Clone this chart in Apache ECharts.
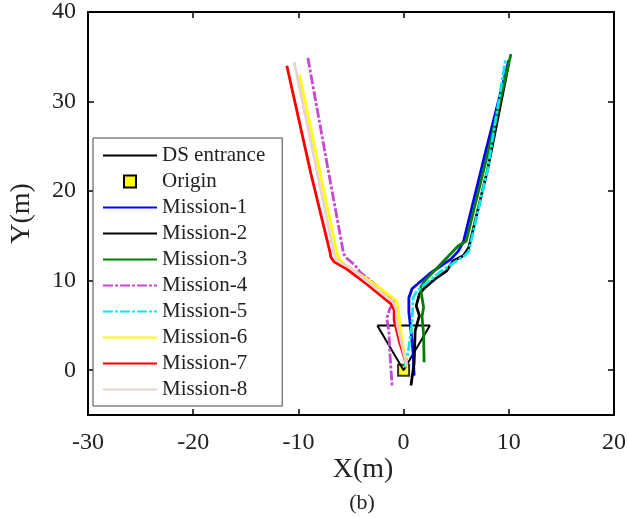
<!DOCTYPE html>
<html><head><meta charset="utf-8">
<script src="https://cdn.jsdelivr.net/npm/echarts@6/dist/echarts.min.js"></script>
<style>html,body{margin:0;padding:0;background:#fff}#c{width:629px;height:518px}</style>
</head><body><div id="c"></div>
<script>
const xTicks = [-30, -20, -10, 0, 10, 20];
const yTicks = [0, 10, 20, 30, 40];
const seriesNames = ['DS entrance','Origin','Mission-1','Mission-2','Mission-3','Mission-4','Mission-5','Mission-6','Mission-7','Mission-8'];

const dsEntrance = [[-2.5,5],[2.5,5],[0,0],[-2.5,5]];
const origin = [[0,0]];
const mission1 = [[1.0,-0.6],[0.9,2.0],[0.7,4.4],[0.5,6.5],[0.5,8.1],[0.8,9.1],[2.5,10.8],[4.5,12.4],[5.2,13.3],[5.7,14.4],[7.8,24.4],[10.0,34.6]];
const mission2 = [[0.7,-1.7],[1.0,0.8],[1.1,4.4],[1.5,6.1],[1.2,7.2],[1.5,8.5],[2.0,9.2],[3.0,10.2],[4.1,11.1],[4.7,12.2],[5.7,12.8],[6.2,13.7],[8.0,22.5],[10.0,34.3]];
const mission3 = [[1.95,0.9],[1.9,4.0],[1.75,6.0],[1.9,7.0],[1.75,8.1],[1.6,9.2],[2.0,10.0],[3.5,11.8],[5.2,13.9],[5.95,14.4],[8.0,24.2],[10.2,35.3]];
const mission4 = [[-9.1,34.9],[-7.1,21.9],[-5.7,13.0],[-5.5,12.6],[-4.6,11.7],[-4.1,10.9],[-2.5,9.4],[-0.9,7.6],[-1.3,6.9],[-1.6,5.8],[-1.4,4.4],[-1.3,1.9],[-1.1,-1.7]];
const mission5 = [[0.1,0.3],[0.5,2.5],[0.8,5.2],[0.9,8.1],[1.3,8.9],[3.5,11.0],[5.8,12.8],[6.2,13.3],[8.0,22.5],[9.7,34.8]];
const mission6 = [[-9.9,33.0],[-6.3,12.9],[-6.1,12.4],[-5.7,11.9],[-3.0,9.8],[-0.7,7.8],[-0.5,6.7],[-0.3,4.5],[0.1,1.8],[0.3,0.4]];
const mission7 = [[-11.1,34.0],[-8.8,21.9],[-7.0,13.2],[-6.9,12.6],[-6.6,12.1],[-5.4,11.3],[-3.5,9.6],[-1.2,7.4],[-0.9,6.7],[-0.9,5.6],[-0.4,3.2],[0.2,0.9]];
const mission8 = [[-10.4,34.4],[-6.6,13.0],[-6.4,12.4],[-6.0,12.0],[-5.0,11.4],[-1.0,7.6],[-0.7,6.8],[-0.6,5.0],[0.0,2.0],[0.3,0.5]];

const serif = "'Liberation Serif','Times New Roman',serif";
const chart = echarts.init(document.getElementById('c'));

function line(name, data, color, width, type, z) {
  return {name, type:'line', data, symbol:'none', smooth:false, z: z,
    lineStyle:{color, width, type: type || 'solid'}, itemStyle:{color}, emphasis:{disabled:true}};
}
const dashDot = [10,2,3,2];

const legendData = seriesNames.map(n => n === 'Origin'
  ? {name:n, icon:'path://M0 0H10V10H0Z', itemStyle:{opacity:1}}
  : {name:n});

chart.setOption({
  animation:false,
  grid:{left:84, right:9, top:10, bottom:103, containLabel:false},
  xAxis:[
    {type:'value', min:-30, max:20, interval:10, position:'bottom',
     axisLine:{show:true, onZero:false, lineStyle:{color:'#000', width:2}},
     axisTick:{show:true, inside:true, length:6, lineStyle:{color:'#000', width:1.5}},
     axisLabel:{fontFamily:serif, fontSize:24, color:'#222', margin:16},
     splitLine:{show:false}},
    {type:'value', min:-30, max:20, interval:10, position:'top',
     axisLine:{show:true, onZero:false, lineStyle:{color:'#000', width:2}},
     axisTick:{show:true, inside:true, length:6, lineStyle:{color:'#000', width:1.5}},
     axisLabel:{show:false}, splitLine:{show:false}}
  ],
  yAxis:[
    {type:'value', min:-5, max:40, position:'left',
     name:'Y(m)', nameLocation:'middle', nameGap:52,
     nameTextStyle:{fontFamily:serif, fontSize:28, color:'#222'},
     axisLine:{show:true, onZero:false, lineStyle:{color:'#000', width:2}},
     axisTick:{show:true, inside:true, length:6, customValues:yTicks, lineStyle:{color:'#000', width:1.5}},
     axisLabel:{fontFamily:serif, fontSize:24, color:'#222', margin:12, customValues:yTicks},
     splitLine:{show:false}},
    {type:'value', min:-5, max:40, position:'right',
     axisLine:{show:true, onZero:false, lineStyle:{color:'#000', width:2}},
     axisTick:{show:true, inside:true, length:6, customValues:yTicks, lineStyle:{color:'#000', width:1.5}},
     axisLabel:{show:false}, splitLine:{show:false}}
  ],
  legend:{
    data: legendData, orient:'vertical', left:93, top:138,
    itemWidth:54, itemHeight:12, itemGap:5, padding:[7,17,6,9],
    itemStyle:{opacity:0},
    backgroundColor:'#fff', borderColor:'#444', borderWidth:1, borderRadius:0,
    textStyle:{fontFamily:serif, fontSize:21, color:'#222', lineHeight:20},
    selectedMode:false
  },
  graphic:[
    {type:'text', style:{text:'X(m)', font:"28px 'Liberation Serif'", fill:'#222', x:363, y:470, align:'center', verticalAlign:'middle'}},
    {type:'text', style:{text:'(b)', font:"22px 'Liberation Serif'", fill:'#222', x:362, y:503, align:'center', verticalAlign:'middle'}}
  ],
  series:[
    {name:'Origin', type:'scatter', data:origin, symbol:'rect', symbolSize:11, z:1,
     itemStyle:{color:'#ffff00', borderColor:'#000', borderWidth:2}, emphasis:{disabled:true}},
    line('DS entrance', dsEntrance, '#000', 2, 'solid', 2),
    line('Mission-1', mission1, '#0000ff', 2.8, 'solid', 3),
    line('Mission-2', mission2, '#000000', 2.8, 'solid', 3),
    line('Mission-3', mission3, '#008000', 2.8, 'solid', 3),
    line('Mission-4', mission4, '#c848d4', 2.8, dashDot, 3),
    line('Mission-5', mission5, '#00eaf2', 2.8, dashDot, 3),
    line('Mission-6', mission6, '#ffff00', 2.8, 'solid', 3),
    line('Mission-7', mission7, '#ff0000', 2.8, 'solid', 3),
    line('Mission-8', mission8, '#e8d2d2', 2.8, 'solid', 3)
  ]
});
</script></body></html>
